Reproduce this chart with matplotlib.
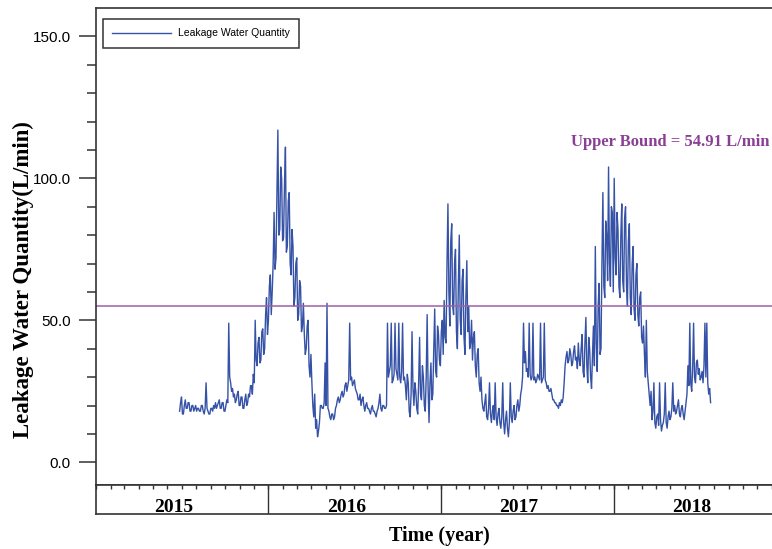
import matplotlib
matplotlib.use("Agg")
import matplotlib.pyplot as plt
import matplotlib.dates as mdates
import pandas as pd

# ---------------- data ----------------
start_date = "2015-06-27"
step_days = 2
leakage = [
    18, 21, 23, 17, 17, 20, 22, 19, 19, 21, 21, 18, 18, 20, 20, 18, 19, 20, 18, 19,
    19, 18, 18, 20, 20, 18, 17, 19, 28, 19, 18, 17, 17, 19, 19, 18, 20, 19, 21, 19,
    20, 21, 22, 19, 19, 21, 21, 18, 18, 20, 22, 21, 49, 30, 28, 25, 26, 23, 24, 21,
    22, 24, 25, 20, 20, 23, 23, 19, 19, 22, 24, 20, 21, 24, 23, 27, 27, 24, 31, 28,
    50, 36, 34, 42, 44, 35, 36, 46, 47, 38, 40, 52, 58, 45, 50, 62, 66, 52, 60, 70,
    88, 68, 72, 94, 117, 80, 82, 104, 100, 78, 79, 98, 111, 74, 76, 92, 95, 70, 66, 82,
    76, 55, 58, 70, 72, 50, 52, 64, 62, 46, 48, 56, 45, 38, 40, 48, 50, 34, 30, 38,
    28, 20, 16, 24, 12, 15, 9, 11, 14, 20, 20, 19, 19, 21, 35, 20, 56, 19, 18, 16,
    15, 17, 17, 15, 16, 19, 20, 22, 23, 21, 22, 24, 25, 23, 24, 27, 28, 25, 27, 29,
    49, 29, 30, 27, 28, 29, 26, 25, 24, 22, 22, 24, 20, 22, 23, 20, 18, 20, 21, 19,
    19, 18, 17, 19, 20, 18, 18, 17, 16, 18, 19, 21, 24, 19, 18, 20, 20, 19, 19, 20,
    49, 30, 32, 34, 49, 28, 29, 31, 49, 33, 31, 29, 49, 30, 28, 32, 49, 29, 30, 27,
    22, 31, 28, 18, 16, 24, 46, 26, 20, 28, 25, 19, 17, 28, 44, 24, 22, 34, 30, 20,
    18, 30, 52, 26, 14, 28, 35, 22, 24, 40, 54, 32, 30, 48, 45, 36, 34, 46, 50, 38,
    57, 44, 42, 70, 91, 60, 48, 78, 84, 55, 52, 70, 75, 46, 40, 62, 80, 50, 45, 64,
    68, 44, 38, 58, 71, 46, 55, 40, 42, 50, 36, 44, 46, 34, 30, 38, 40, 28, 25, 30,
    22, 19, 18, 21, 24, 16, 15, 19, 28, 17, 14, 18, 20, 15, 28, 16, 13, 17, 19, 14,
    12, 16, 28, 14, 10, 15, 18, 12, 9, 14, 28, 16, 14, 18, 20, 15, 16, 20, 22, 18,
    20, 24, 26, 30, 49, 35, 39, 32, 33, 30, 49, 31, 29, 30, 49, 29, 30, 28, 29, 31,
    30, 29, 49, 28, 29, 30, 49, 29, 28, 26, 27, 25, 25, 26, 24, 22, 22, 21, 21, 20,
    20, 19, 21, 20, 22, 21, 23, 28, 34, 37, 39, 35, 36, 40, 38, 34, 35, 39, 41, 36,
    37, 33, 42, 36, 34, 40, 45, 32, 30, 42, 51, 34, 28, 44, 40, 30, 26, 38, 48, 34,
    76, 42, 32, 55, 63, 38, 40, 70, 95, 62, 58, 85, 80, 64, 104, 70, 62, 90, 88, 60,
    100, 72, 66, 88, 82, 62, 58, 80, 91, 64, 60, 86, 90, 62, 55, 78, 84, 58, 52, 70,
    76, 54, 50, 66, 70, 52, 48, 58, 60, 44, 42, 48, 38, 30, 50, 32, 28, 24, 20, 25,
    15, 18, 28, 14, 12, 16, 17, 13, 28, 15, 11, 13, 14, 17, 28, 14, 12, 16, 18, 15,
    16, 19, 28, 18, 20, 17, 18, 20, 22, 17, 16, 19, 20, 17, 15, 18, 21, 24, 34, 27,
    49, 28, 25, 33, 49, 30, 28, 35, 36, 31, 33, 29, 30, 32, 28, 34, 49, 30, 49, 28,
    24, 26, 21,
]
upper_bound = 54.91
years = [2015, 2016, 2017, 2018]
y_major = [0, 50, 100, 150]
y_tick_labels = ["0.0", "50.0", "100.0", "150.0"]
series_label = "Leakage Water Quantity"
bound_label = "Upper Bound = 54.91 L/min"

# ---------------- styling ----------------
W, H = 772, 549
SERIES_C = "#3552a6"
BOUND_C = "#9b62a6"
BOUND_TXT_C = "#8a3f95"
SPINE_C = "#333333"
SERIF = ["Liberation Serif", "DejaVu Serif"]
SANS = ["Liberation Sans", "DejaVu Sans"]

dates = pd.date_range(start_date, periods=len(leakage), freq=f"{step_days}D")
x0 = pd.Timestamp("2015-01-01")
x1 = pd.Timestamp("2018-12-02")

fig = plt.figure(figsize=(W / 100, H / 100), dpi=100)
fig.patch.set_facecolor("white")

# main axes
ax = fig.add_axes([96 / W, (H - 485) / H, (W - 96) / W, (485 - 8) / H])
ax.plot(dates, leakage, color=SERIES_C, lw=1.0, label=series_label)
ax.axhline(upper_bound, color=BOUND_C, lw=1.1)
ax.set_xlim(x0, x1)
ax.set_ylim(-8, 160)

for s in ["left", "top", "bottom"]:
    ax.spines[s].set_color(SPINE_C)
    ax.spines[s].set_linewidth(1.2)
ax.spines["right"].set_visible(False)

ax.set_yticks(y_major)
ax.set_yticklabels(y_tick_labels, family=SANS, fontsize=11)
ax.set_yticks(list(range(0, 160, 10)), minor=True)
ax.tick_params(axis="y", which="major", direction="out", length=12, width=1.1,
               color=SPINE_C, pad=6)
ax.tick_params(axis="y", which="minor", direction="out", length=6.5, width=1.1,
               color=SPINE_C)
ax.tick_params(axis="x", which="both", bottom=False, labelbottom=False)

ax.text(0.997, 112.9, bound_label, transform=ax.get_yaxis_transform(),
        ha="right", va="center", color=BOUND_TXT_C, family=SERIF,
        fontweight="bold", fontsize=12)

leg = ax.legend(loc="upper left", bbox_to_anchor=(7 / (W - 96), 1 - 11 / (485 - 8)),
                borderaxespad=0, prop={"family": SANS, "size": 7.5},
                handlelength=5.6, handletextpad=0.7, borderpad=0.9,
                fancybox=False, framealpha=1)
leg.get_frame().set_edgecolor(SPINE_C)
leg.get_frame().set_linewidth(1.1)

ax.set_ylabel("Leakage Water Quantity(L/min)", family=SERIF, fontweight="bold",
              fontsize=16.5)
ax.yaxis.set_label_coords(34 / W, (H - 280) / H, transform=fig.transFigure)

# lower time box
ax2 = fig.add_axes([96 / W, (H - 514) / H, (W - 96) / W, 29 / H])
ax2.set_xlim(x0, x1)
ax2.set_ylim(0, 1)
ax2.set_yticks([])
for s in ["left", "top", "bottom"]:
    ax2.spines[s].set_color(SPINE_C)
    ax2.spines[s].set_linewidth(1.2)
ax2.spines["right"].set_visible(False)
ax2.xaxis.set_major_locator(mdates.MonthLocator())
ax2.tick_params(axis="x", which="both", top=True, bottom=False, labelbottom=False,
                direction="in", length=3.2, width=1, color=SPINE_C)
for yr in years[1:]:
    ax2.axvline(pd.Timestamp(f"{yr}-01-01"), color=SPINE_C, lw=1)
for yr in years:
    ax2.text(pd.Timestamp(f"{yr}-06-14"), 0.06, str(yr), ha="center", va="baseline",
             family=SERIF, fontweight="bold", fontsize=14)

fig.text(439 / W, (H - 541) / H, "Time (year)", ha="center", va="baseline",
         family=SERIF, fontweight="bold", fontsize=14.5)

fig.savefig("out.png", dpi=100)
